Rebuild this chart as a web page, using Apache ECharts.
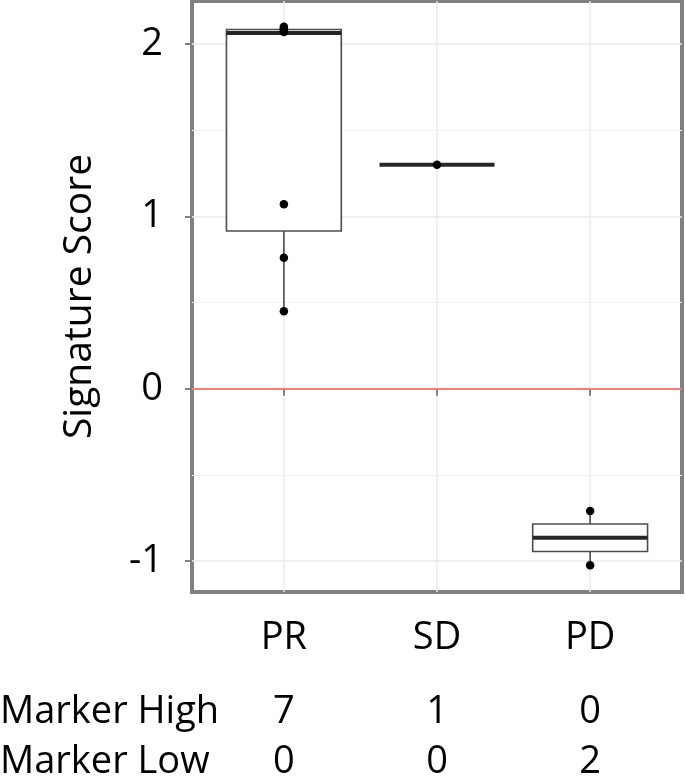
<!DOCTYPE html>
<html>
<head>
<meta charset="utf-8">
<script src="https://cdn.jsdelivr.net/npm/echarts@6/dist/echarts.min.js"></script>
<style>
  html, body { margin: 0; padding: 0; background: #fff; }
  #chart { width: 685px; height: 776px; }
</style>
</head>
<body>
<div id="chart"></div>
<script>
const categories = ['PR', 'SD', 'PD']
// box stats per category: [min, Q1, median, Q3, max]
const prBox = [0.45, 0.915, 2.065, 2.085, 2.10]
const sdBox = [1.30, 1.30, 1.30, 1.30, 1.30]
const pdBox = [-1.025, -0.945, -0.865, -0.785, -0.71]
const prPoints = [2.10, 2.09, 2.08, 2.07, 1.07, 0.76, 0.45]
const sdPoints = [1.30]
const pdPoints = [-0.71, -1.025]
const markerHigh = [7, 1, 0]
const markerLow = [0, 0, 2]
const rowLabels = ['Marker High', 'Marker Low']
const yMajorTicks = [-1, 0, 1, 2]
const yMinorTicks = [-0.5, 0.5, 1.5]

const FONT = '"Open Sans", "Noto Sans", sans-serif'
const GRID_BOTTOM_Y = 592
const ROW_OFFSETS = [101, 151]
const xTicks = categories.map((_, i) => i + 1)
const boxData = [prBox, sdBox, pdBox].map((s, i) => [i + 1, ...s])
const pointData = [prPoints, sdPoints, pdPoints]
  .flatMap((pts, i) => pts.map(v => [i + 1, v]))

const chart = echarts.init(document.getElementById('chart'))

function renderBox(params, api) {
  const x = api.value(0)
  const lo = api.value(1)
  const q1 = api.value(2)
  const med = api.value(3)
  const q3 = api.value(4)
  const hi = api.value(5)
  const half = 0.375
  const pLo = api.coord([x, lo])
  const pHi = api.coord([x, hi])
  const tl = api.coord([x - half, q3])
  const br = api.coord([x + half, q1])
  const mL = api.coord([x - half, med])
  const mR = api.coord([x + half, med])
  const stroke = '#4d4d4d'
  return {
    type: 'group',
    children: [
      { type: 'line', shape: { x1: pHi[0], y1: pHi[1], x2: pHi[0], y2: tl[1] }, style: { stroke, lineWidth: 1.6 } },
      { type: 'line', shape: { x1: pLo[0], y1: br[1], x2: pLo[0], y2: pLo[1] }, style: { stroke, lineWidth: 1.6 } },
      { type: 'rect', shape: { x: tl[0], y: tl[1], width: br[0] - tl[0], height: br[1] - tl[1] }, style: { fill: '#fff', stroke, lineWidth: 1.6 } },
      { type: 'line', shape: { x1: mL[0], y1: mL[1], x2: mR[0], y2: mR[1] }, style: { stroke: '#262626', lineWidth: 4 } },
    ],
  }
}

const countAxis = (counts, offset) => ({
  type: 'value',
  gridIndex: 0,
  position: 'bottom',
  min: 0.4,
  max: 3.6,
  offset,
  axisLine: { show: false },
  axisTick: { show: false, customValues: xTicks },
  splitLine: { show: false },
  axisLabel: {
    customValues: xTicks,
    margin: 0,
    fontSize: 38,
    color: '#000',
    formatter: v => String(counts[Math.round(v) - 1]),
  },
})

chart.setOption({
  animation: false,
  textStyle: { fontFamily: FONT },
  grid: {
    left: 192,
    right: 3,
    top: 1,
    bottom: 776 - GRID_BOTTOM_Y,
    show: true,
    borderColor: '#808080',
    borderWidth: 4,
    backgroundColor: 'transparent',
    outerBoundsMode: 'none',
  },
  xAxis: [
    {
      type: 'value',
      min: 0.4,
      max: 3.6,
      position: 'bottom',
      axisLine: { show: false },
      axisTick: { show: true, customValues: xTicks, length: 7, lineStyle: { color: '#808080', width: 2 } },
      axisLabel: {
        customValues: xTicks,
        margin: 27,
        fontSize: 38,
        color: '#000',
        formatter: v => categories[Math.round(v) - 1],
      },
      splitLine: { show: true, lineStyle: { color: '#ebebeb', width: 1.5 } },
    },
    countAxis(markerHigh, ROW_OFFSETS[0]),
    countAxis(markerLow, ROW_OFFSETS[1]),
  ],
  yAxis: [
    {
      type: 'value',
      min: -1.18,
      max: 2.25,
      position: 'left',
      name: 'Signature Score',
      nameLocation: 'middle',
      nameRotate: 90,
      nameGap: 93,
      nameTextStyle: { fontSize: 39, color: '#000', fontFamily: FONT },
      axisLine: { show: false },
      axisTick: { show: true, customValues: yMajorTicks, length: 7, lineStyle: { color: '#808080', width: 2 } },
      axisLabel: {
        customValues: yMajorTicks,
        margin: 29,
        fontSize: 38,
        color: '#000',
      },
      splitLine: { show: true, lineStyle: { color: '#ebebeb', width: 1.5 } },
    },
    {
      type: 'value',
      min: -1.18,
      max: 2.25,
      position: 'left',
      axisLine: { show: false },
      axisTick: { show: false, customValues: yMinorTicks },
      axisLabel: { show: false },
      splitLine: { show: true, lineStyle: { color: '#f3f3f3', width: 1 } },
    },
  ],
  graphic: rowLabels.map((t, i) => ({
    type: 'text',
    left: 0,
    top: GRID_BOTTOM_Y + ROW_OFFSETS[i],
    style: { text: t, font: '38px ' + FONT, fill: '#000' },
  })),
  series: [
    {
      type: 'custom',
      renderItem: renderBox,
      data: boxData,
      encode: { x: 0, y: [1, 2, 3, 4, 5] },
      z: 3,
      markLine: {
        silent: true,
        symbol: 'none',
        label: { show: false },
        lineStyle: { color: '#f4807c', width: 2, type: 'solid' },
        data: [{ yAxis: 0 }],
      },
    },
    {
      type: 'scatter',
      data: pointData,
      symbolSize: 8.5,
      itemStyle: { color: '#000', opacity: 1 },
      z: 4,
    },
  ],
})
</script>
</body>
</html>
